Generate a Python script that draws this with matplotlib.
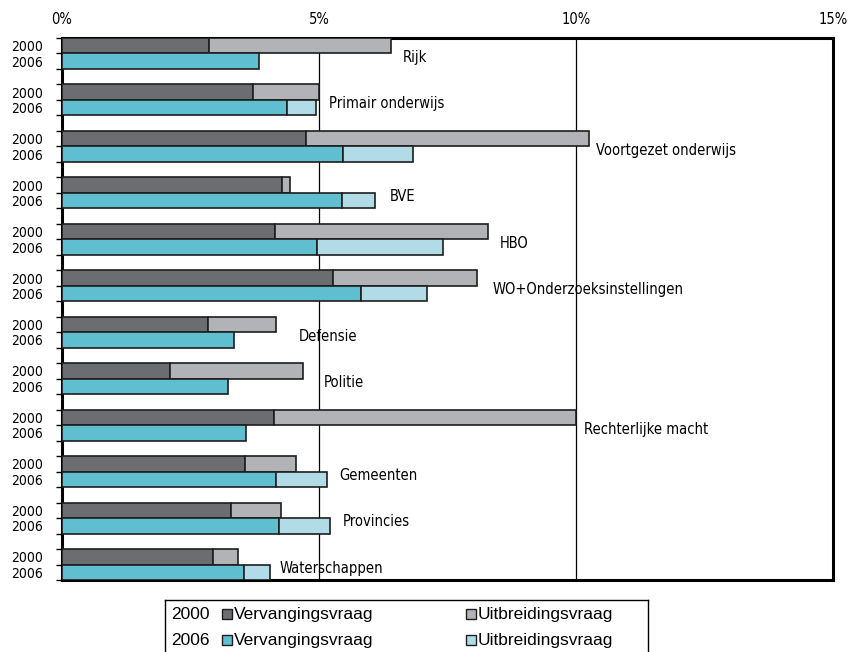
import numpy as np
import matplotlib
matplotlib.use("Agg")
import matplotlib.pyplot as plt
from matplotlib.patches import Rectangle

sectors = ["Rijk", "Primair onderwijs", "Voortgezet onderwijs", "BVE", "HBO",
           "WO+Onderzoeksinstellingen", "Defensie", "Politie", "Rechterlijke macht",
           "Gemeenten", "Provincies", "Waterschappen"]

# percentages, 2000 and 2006
verv_2000 = [2.86, 3.72, 4.74, 4.28, 4.14, 5.27, 2.84, 2.10, 4.12, 3.56, 3.29, 2.94]
uitb_2000 = [3.54, 1.28, 5.51, 0.16, 4.15, 2.80, 1.32, 2.59, 5.88, 0.99, 0.97, 0.48]
verv_2006 = [3.83, 4.38, 5.46, 5.45, 4.96, 5.82, 3.35, 3.23, 3.58, 4.16, 4.22, 3.54]
uitb_2006 = [0.00, 0.56, 1.36, 0.64, 2.45, 1.28, 0.00, 0.00, 0.00, 1.00, 0.99, 0.51]

# where the sector names sit (x in %)
label_x = [6.63, 5.19, 10.39, 6.38, 8.52, 8.37, 4.61, 5.10, 10.16, 5.39, 5.47, 4.24]
years = ["2000", "2006"]

c_dark = "#6c6d70"
c_grey = "#b2b3b6"
c_cyan = "#5fbfd0"
c_lcyan = "#b1dce7"
edge = "#1e1e1e"

narrow = dict(family="DejaVu Sans", stretch="condensed")

fig = plt.figure(figsize=(8.48, 6.52), dpi=100)
ax = fig.add_axes([0.0731, 0.1104, 0.9092, 0.8313])

n = len(sectors)
y2000 = np.arange(n) * 3 + 0.5
y2006 = np.arange(n) * 3 + 1.5
h = 1.0

ax.barh(y2000, verv_2000, height=h, color=c_dark, edgecolor=edge, linewidth=1.2, zorder=3)
ax.barh(y2000, uitb_2000, left=verv_2000, height=h, color=c_grey, edgecolor=edge, linewidth=1.2, zorder=3)
ax.barh(y2006, verv_2006, height=h, color=c_cyan, edgecolor=edge, linewidth=1.2, zorder=3)
u6 = np.array(uitb_2006)
m = u6 > 0
ax.barh(y2006[m], u6[m], left=np.array(verv_2006)[m], height=h, color=c_lcyan,
        edgecolor=edge, linewidth=1.2, zorder=3)

for i, name in enumerate(sectors):
    ax.text(label_x[i], y2006[i] - 0.25, name, va="center", ha="left",
            fontsize=10.5, zorder=4, **narrow)

ax.set_xlim(0, 15)
ax.set_ylim(n * 3 - 1, 0)

for v in (5, 10):
    ax.axvline(v, color="black", linewidth=0.9, zorder=1)

ax.xaxis.tick_top()
ax.set_xticks([0, 5, 10, 15])
ax.set_xticklabels(["0%", "5%", "10%", "15%"], fontsize=10.5, **narrow)
ax.tick_params(axis="x", length=0, pad=8)

edges = sorted(set(np.concatenate([np.arange(n) * 3, np.arange(n) * 3 + 1, np.arange(n) * 3 + 2])))
ax.set_yticks(edges)
ax.set_yticklabels([])
ax.tick_params(axis="y", which="major", length=4, width=1, direction="out")
ax.set_yticks(np.concatenate([y2000, y2006]), minor=True)
ax.set_yticklabels(years[:1] * n + years[1:] * n, minor=True, fontsize=10, **narrow)
ax.tick_params(axis="y", which="minor", length=0, pad=14)

for s in ax.spines.values():
    s.set_linewidth(2.2)
    s.set_color("black")

# legend box below the plot
leg = fig.add_axes([165 / 848, 0, (648 - 165) / 848, 1 - 600 / 652])
leg.set_xlim(165, 648)
leg.set_ylim(652, 600)
leg.set_xticks([])
leg.set_yticks([])
for s in leg.spines.values():
    s.set_linewidth(1.0)
leg.spines["bottom"].set_visible(False)
rows = [("2000", c_dark, c_grey, 614), ("2006", c_cyan, c_lcyan, 640)]
for yr, ca, cb, yy in rows:
    leg.text(171, yy, yr, va="center", ha="left", fontsize=12.5, family="Liberation Sans")
    leg.add_patch(Rectangle((222, yy - 5), 10, 10, facecolor=ca, edgecolor=edge, linewidth=1))
    leg.text(234, yy, "Vervangingsvraag", va="center", ha="left", fontsize=12.5, family="Liberation Sans")
    leg.add_patch(Rectangle((466, yy - 5), 10, 10, facecolor=cb, edgecolor=edge, linewidth=1))
    leg.text(478, yy, "Uitbreidingsvraag", va="center", ha="left", fontsize=12.5, family="Liberation Sans")

fig.savefig("out.png", dpi=100)
